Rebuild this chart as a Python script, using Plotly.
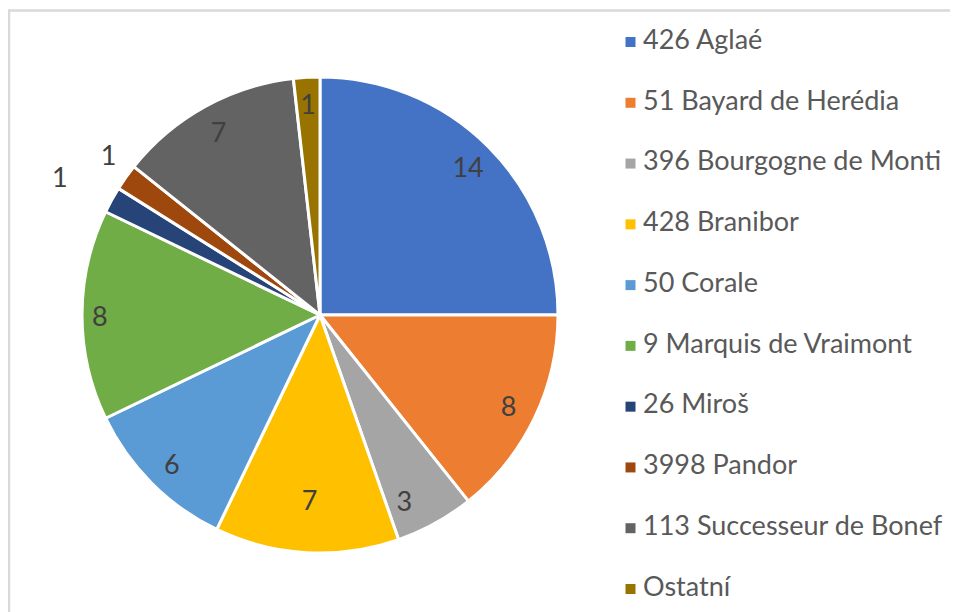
import plotly.graph_objects as go

categories = ["426 Aglaé", "51 Bayard de Herédia", "396 Bourgogne de Monti",
              "428 Branibor", "50 Corale", "9 Marquis de Vraimont", "26 Miroš",
              "3998 Pandor", "113 Successeur de Bonef", "Ostatní"]
values = [14, 8, 3, 7, 6, 8, 1, 1, 7, 1]
colors = ["#4472C4", "#ED7D31", "#A5A5A5", "#FFC000", "#5B9BD5",
          "#70AD47", "#264478", "#9E480E", "#636363", "#997300"]
# which label ring carries each slice's data label
label_ring = ["rim", "rim", "side", "mid", "rim",
              "edge", "far", "out", "rim", "near"]

FONT = "Lato"
TXT = "#595959"
LABEL_TXT = "#404040"
LABEL_SIZE = 27
W, H = 958, 612
OFF = 8  # page body margin: screen px = figure px + OFF


def px(x):
    return (x - OFF) / W


def py(y):
    return 1 - (y - OFF) / H


CX, CY, R = 320, 315, 238


def domain(r):
    return dict(x=[px(CX - r), px(CX + r)], y=[py(CY + r), py(CY - r)])


# ring name -> (hole, radius px, text position, label nudge in degrees)
RINGS = {
    "rim": (0.76, R, "inside", 0),
    "side": (0.70, R, "inside", 4.5),
    "edge": (0.86, R, "inside", 0),
    "mid": (0.55, R, "inside", 0),
    "near": (0.70, 224, "inside", 0),
    "out": (0.0, 249, "outside", 3),
    "far": (0.0, 279, "outside", 0),
}
CLEAR = ["rgba(0,0,0,0)"] * len(values)

fig = go.Figure()

# coloured slices
fig.add_trace(go.Pie(
    labels=categories, values=values, sort=False, direction="clockwise",
    marker=dict(colors=colors, line=dict(color="white", width=3)),
    textinfo="none", showlegend=False, domain=domain(R),
    hoverinfo="label+value",
))

# transparent pies that only carry the data labels
for name, (hole, rad, pos, nudge) in RINGS.items():
    positions = [pos if ring == name else "none" for ring in label_ring]
    fig.add_trace(go.Pie(
        labels=categories, values=values, sort=False, direction="clockwise",
        rotation=nudge,
        marker=dict(colors=CLEAR, line=dict(width=0)),
        hole=hole, textinfo="value", textposition=positions,
        insidetextorientation="horizontal",
        textfont=dict(family=FONT, size=LABEL_SIZE, color=LABEL_TXT),
        showlegend=False, domain=domain(rad), hoverinfo="skip",
    ))

# legend column: markers + labels
idx = list(range(len(categories)))
fig.add_trace(go.Scatter(
    x=[0] * len(categories), y=idx, mode="markers",
    marker=dict(symbol="square", size=10, color=colors, line=dict(width=0)),
    cliponaxis=False, showlegend=False, hoverinfo="skip",
))
MX0 = 630.5  # marker centre (screen px)
TX0 = 643    # text start (screen px)
fig.add_trace(go.Scatter(
    x=[(TX0 - MX0) / (W + OFF - MX0)] * len(categories), y=idx, mode="text",
    text=categories, textposition="middle right",
    textfont=dict(family=FONT, size=27, color=TXT),
    cliponaxis=False, showlegend=False, hoverinfo="skip",
))

Y0, Y9 = 42, 589  # first / last legend row centre (screen px)
y0 = py(Y0)
y9 = py(Y9)
step = (y0 - y9) / 9
fig.update_layout(
    width=W, height=H,
    margin=dict(l=0, r=0, t=0, b=0),
    paper_bgcolor="white", plot_bgcolor="rgba(0,0,0,0)",
    uniformtext=dict(mode="show", minsize=LABEL_SIZE),
    xaxis=dict(domain=[px(MX0), 1], range=[0, 1], visible=False, fixedrange=True),
    yaxis=dict(domain=[0, 1], range=[y0 / step, (y0 - 1) / step],
               visible=False, fixedrange=True),
    shapes=[dict(type="path", xref="paper", yref="paper",
                 path=f"M {px(9)} -0.01 L {px(9)} {py(10.5)} L 1.01 {py(10.5)}",
                 line=dict(color="#D9D9D9", width=2.5))],
)

fig.write_html("out.html")
